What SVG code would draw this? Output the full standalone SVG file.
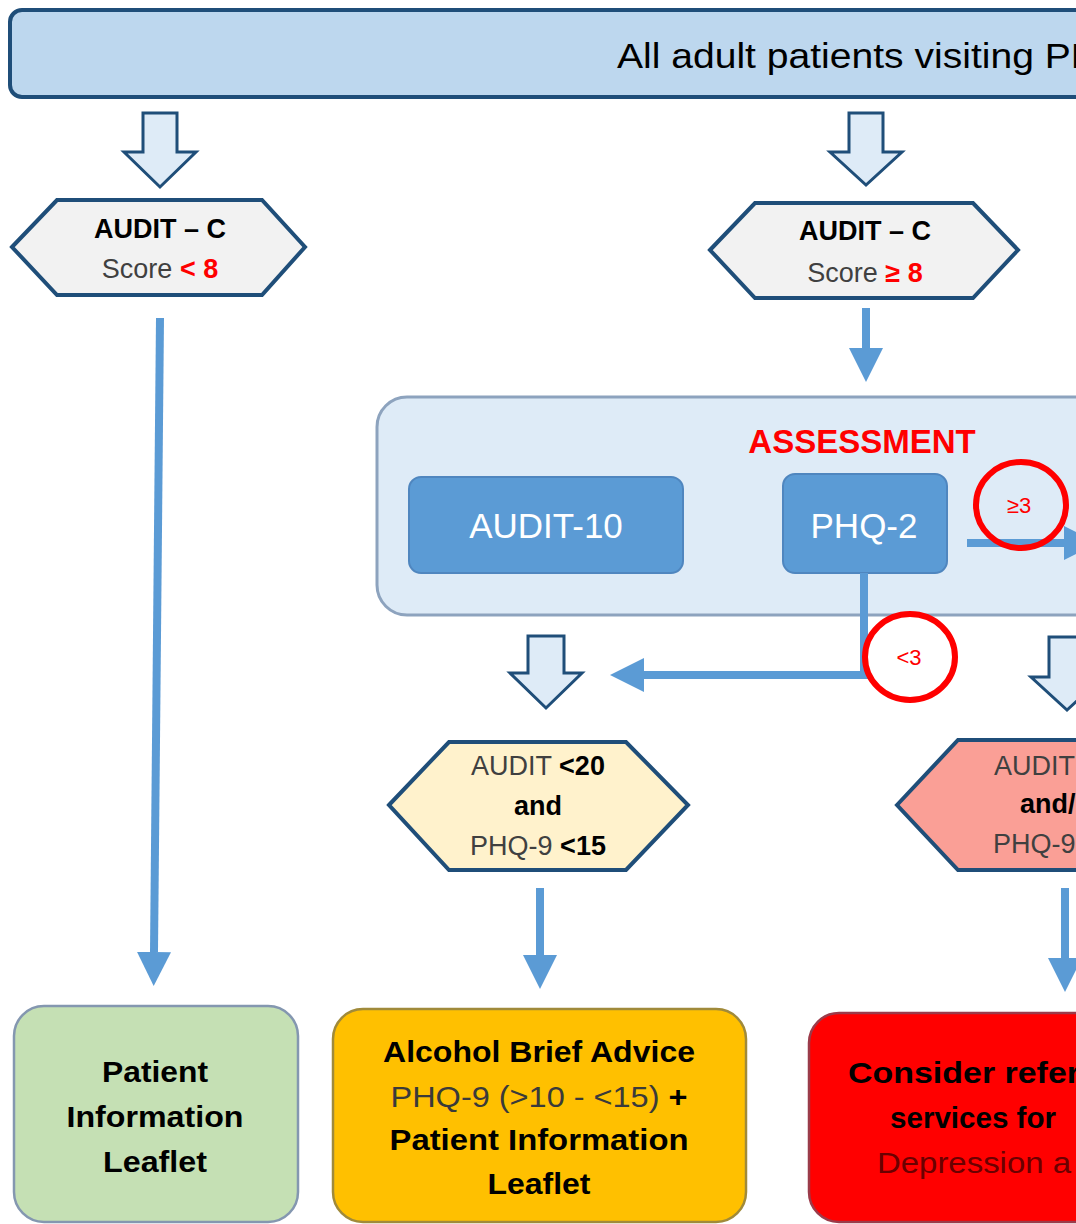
<svg xmlns="http://www.w3.org/2000/svg" width="1076" height="1224" viewBox="0 0 1076 1224">
  <style>
    text { font-family: "Liberation Sans", Arial, sans-serif; }
    .hex { stroke: #1F4E79; stroke-width: 4; stroke-linejoin: miter; }
    .blk { fill: #DEEBF7; stroke: #1F4E79; stroke-width: 3; stroke-linejoin: miter; }
    .conn { fill: none; stroke: #5B9BD5; stroke-width: 8; }
    .ring { fill: none; stroke: #FF0000; stroke-width: 6; }
    .hx { font-size: 27px; text-anchor: middle; fill: #404040; }
    .b { font-weight: bold; fill: #000000; }
    .red { fill: #FF0000; font-weight: bold; }
    .box { font-size: 30px; text-anchor: middle; }
    .btn { fill: #5B9BD5; stroke: #4F86BF; stroke-width: 2; }
  </style>
  <defs>
    <marker id="ah" markerUnits="userSpaceOnUse" markerWidth="34" markerHeight="34" viewBox="0 0 32 32" refX="0" refY="16" orient="auto">
      <path d="M0,0 L32,16 L0,32 Z" fill="#5B9BD5"/>
    </marker>
  </defs>
  <rect width="1076" height="1224" fill="#FFFFFF"/>

  <!-- Banner -->
  <g id="banner">
    <rect x="10" y="10" width="1110" height="87" rx="12" fill="#BDD7EE" stroke="#1F4E79" stroke-width="4"/>
    <text x="617" y="68" font-size="35" fill="#000000" textLength="482" lengthAdjust="spacingAndGlyphs">All adult patients visiting PH</text>
  </g>

  <!-- Block arrows -->
  <g id="blockarrows">
    <path class="blk" d="M143,113 H177 V152 H196 L160,187 L124,152 H143 Z"/>
    <path class="blk" d="M849,113 H883 V152 H902 L866,185 L830,152 H849 Z"/>
    <path class="blk" d="M528,636 H564 V673 H582 L546,708 L510,673 H528 Z"/>
    <path class="blk" d="M1049,637 H1085 V677 H1103 L1067,710 L1031,677 H1049 Z"/>
  </g>

  <!-- AUDIT-C < 8 -->
  <g id="auditc-low">
    <polygon class="hex" fill="#F2F2F2" points="12,247 57,200 262,200 305,247 262,295 57,295"/>
    <text class="hx b" x="160" y="238">AUDIT – C</text>
    <text class="hx" x="160" y="278">Score <tspan class="red">&lt; 8</tspan></text>
  </g>

  <!-- AUDIT-C >= 8 -->
  <g id="auditc-high">
    <polygon class="hex" fill="#F2F2F2" points="710,250 755,203 973,203 1018,250 973,298 755,298"/>
    <text class="hx b" x="865" y="240">AUDIT – C</text>
    <text class="hx" x="865" y="282">Score <tspan class="red">≥ 8</tspan></text>
  </g>

  <!-- Assessment -->
  <g id="assessment">
    <rect x="377" y="397" width="760" height="218" rx="30" fill="#DEEBF7" stroke="#8DA3BE" stroke-width="3"/>
    <text x="862" y="453" font-size="33" font-weight="bold" fill="#FF0000" text-anchor="middle">ASSESSMENT</text>
  </g>
  <g id="audit10">
    <rect class="btn" x="409" y="477" width="274" height="96" rx="12"/>
    <text x="546" y="538" font-size="35" fill="#FFFFFF" text-anchor="middle">AUDIT-10</text>
  </g>
  <g id="phq2">
    <rect class="btn" x="783" y="474" width="164" height="99" rx="12"/>
    <text x="864" y="538" font-size="35" fill="#FFFFFF" text-anchor="middle">PHQ-2</text>
  </g>

  <!-- Yellow decision -->
  <g id="low-risk">
    <polygon class="hex" fill="#FFF2CC" points="389,805 449,742 626,742 688,805 626,870 449,870"/>
    <text class="hx" x="538" y="775">AUDIT <tspan class="b">&lt;20</tspan></text>
    <text class="hx b" x="538" y="815">and</text>
    <text class="hx" x="538" y="855">PHQ-9 <tspan class="b">&lt;15</tspan></text>
  </g>

  <!-- Red decision -->
  <g id="high-risk">
    <polygon class="hex" fill="#FA9F96" points="897,805 958,740 1150,740 1212,805 1150,870 958,870"/>
    <text x="994" y="775" font-size="27" fill="#404040">AUDIT</text>
    <text x="1020" y="813" font-size="27" font-weight="bold" fill="#000000">and/</text>
    <text x="993" y="853" font-size="27" fill="#404040">PHQ-9</text>
  </g>

  <!-- Outcomes -->
  <g id="leaflet">
    <rect x="14" y="1006" width="284" height="216" rx="30" fill="#C5E0B4" stroke="#8497B0" stroke-width="2.5"/>
    <text class="box b" x="155" y="1082" textLength="106" lengthAdjust="spacingAndGlyphs">Patient</text>
    <text class="box b" x="155" y="1127" textLength="177" lengthAdjust="spacingAndGlyphs">Information</text>
    <text class="box b" x="155" y="1172" textLength="104" lengthAdjust="spacingAndGlyphs">Leaflet</text>
  </g>
  <g id="brief-advice">
    <rect x="333" y="1009" width="413" height="213" rx="30" fill="#FFC000" stroke="#A08A3A" stroke-width="2.5"/>
    <text class="box b" x="539" y="1062" textLength="312" lengthAdjust="spacingAndGlyphs">Alcohol Brief Advice</text>
    <text class="box" x="539" y="1107" fill="#3A3A3A" textLength="297" lengthAdjust="spacingAndGlyphs">PHQ-9 (&gt;10 - &lt;15) <tspan font-weight="bold" fill="#000000">+</tspan></text>
    <text class="box b" x="539" y="1150" textLength="299" lengthAdjust="spacingAndGlyphs">Patient Information</text>
    <text class="box b" x="539" y="1194" textLength="103" lengthAdjust="spacingAndGlyphs">Leaflet</text>
  </g>
  <g id="referral">
    <rect x="809" y="1013" width="300" height="209" rx="30" fill="#FF0000" stroke="#9B3B4A" stroke-width="2.5"/>
    <text x="848" y="1083" font-size="30" font-weight="bold" fill="#000000" textLength="232" lengthAdjust="spacingAndGlyphs">Consider refer</text>
    <text x="890" y="1128" font-size="30" font-weight="bold" fill="#000000" textLength="166" lengthAdjust="spacingAndGlyphs">services for</text>
    <text x="877" y="1173" font-size="30" fill="#6B0000" textLength="194" lengthAdjust="spacingAndGlyphs">Depression a</text>
  </g>

  <!-- Connectors -->
  <g id="connectors">
    <line class="conn" x1="160" y1="318" x2="154" y2="952" marker-end="url(#ah)"/>
    <line class="conn" x1="866" y1="308" x2="866" y2="348" marker-end="url(#ah)"/>
    <line class="conn" x1="540" y1="888" x2="540" y2="955" marker-end="url(#ah)"/>
    <line class="conn" x1="1065" y1="888" x2="1065" y2="958" marker-end="url(#ah)"/>
    <line class="conn" x1="967" y1="543" x2="1064" y2="543" marker-end="url(#ah)"/>
    <polyline class="conn" points="864,573 864,675 644,675" marker-end="url(#ah)"/>
  </g>

  <!-- Threshold labels -->
  <g id="label-ge3">
    <ellipse class="ring" cx="1021" cy="505" rx="45" ry="43"/>
    <text x="1019" y="513" font-size="22" fill="#FF0000" text-anchor="middle">≥3</text>
  </g>
  <g id="label-lt3">
    <ellipse class="ring" cx="910" cy="657" rx="45" ry="43"/>
    <text x="909" y="665" font-size="22" fill="#FF0000" text-anchor="middle">&lt;3</text>
  </g>
</svg>
